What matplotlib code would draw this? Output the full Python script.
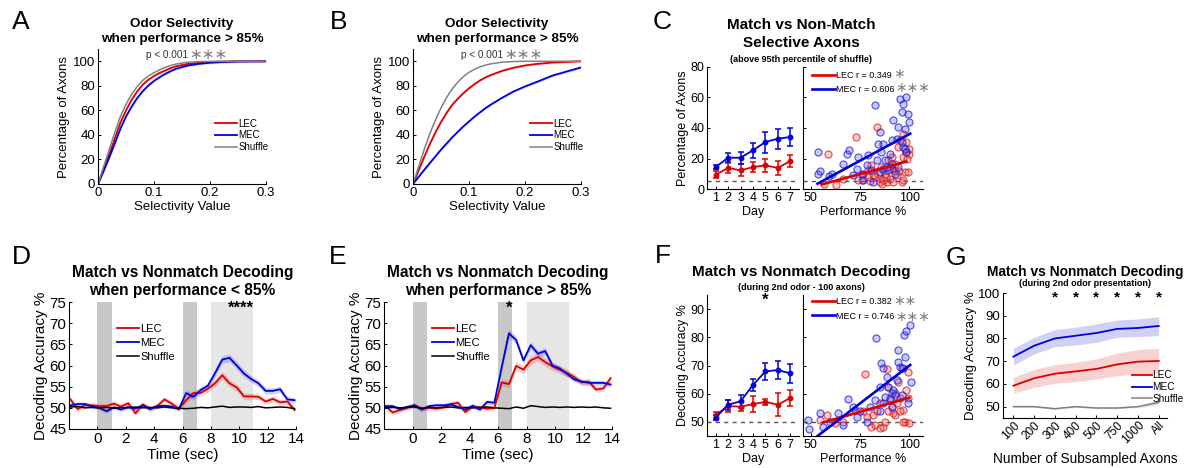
import matplotlib
matplotlib.use("Agg")
import matplotlib.pyplot as plt
import numpy as np

plt.rcParams["font.family"] = ["Liberation Sans", "DejaVu Sans"]
plt.rcParams["axes.linewidth"] = 0.8
plt.rcParams["xtick.direction"] = "in"
plt.rcParams["ytick.direction"] = "in"
plt.rcParams["xtick.major.size"] = 2.5
plt.rcParams["ytick.major.size"] = 2.5
plt.rcParams["xtick.major.width"] = 0.7
plt.rcParams["ytick.major.width"] = 0.7
plt.rcParams["xtick.major.pad"] = 2.5
plt.rcParams["ytick.major.pad"] = 2

# ---------------- data ----------------
# A / B: cumulative odor selectivity
sel_x = [0, 0.01, 0.02, 0.03, 0.04, 0.05, 0.06, 0.07, 0.08, 0.09, 0.10, 0.11,
         0.12, 0.13, 0.14, 0.16, 0.18, 0.20, 0.22, 0.25, 0.30]
a_shuffle = [0, 14, 28, 42, 55, 65, 73, 79.5, 84.5, 88, 90.7, 93, 95, 96.6, 97.8,
             99.2, 99.7, 99.9, 100, 100, 100]
a_lec = [0, 12, 24, 37, 50, 60, 68.5, 75.5, 81, 85, 88, 90.5, 92.5, 94.5, 96,
         97.8, 98.8, 99.4, 99.7, 100, 100]
a_mec = [0, 10.5, 21.5, 33, 45, 55, 63, 70, 75.7, 80.3, 84, 87, 89.7, 92, 94,
         96.5, 97.9, 98.8, 99.4, 99.8, 100]
b_shuffle = [0, 14, 28, 41, 52, 62, 70.5, 77.5, 83, 87.5, 91, 93.5, 95.5, 97, 98,
             99.3, 99.8, 100, 100, 100, 100]
b_lec = [0, 11, 22, 32.5, 42, 50.5, 58, 64.5, 69.5, 74, 78, 81.5, 84.5, 87, 89,
         92.3, 94.8, 96.6, 97.8, 99, 100]
b_mec = [0, 5.8, 11.5, 17, 22.5, 28, 33, 38, 42.5, 47, 51, 55, 58.5, 62, 65,
         70.5, 75.5, 79.5, 83, 88.5, 95]
cdf_band = 1.0

# C: selective axons per day
days = [1, 2, 3, 4, 5, 6, 7]
c_lec_mean = [9.4, 13.8, 12.2, 14.4, 15.5, 13.8, 18.4]
c_lec_err = [2.3, 3.5, 4.0, 3.5, 4.5, 4.5, 4.0]
c_mec_mean = [14.4, 20.5, 20.5, 25.4, 30.8, 33.0, 34.1]
c_mec_err = [1.5, 3.0, 4.0, 5.0, 6.9, 6.5, 6.2]

# C: selective axons vs performance
c_lec_perf = [58.5, 56.8, 63.0, 66.4, 72.7, 74.1, 76.6, 79.2, 80.8, 82.6, 83.7, 84.2,
              85.1, 85.9, 86.8, 87.6, 89.3, 90.2, 91.0, 91.9, 92.7, 93.6, 94.4, 95.3,
              96.1, 96.9, 97.8, 98.6, 99.5, 100.0, 90.2, 88.5, 78.3, 75.8, 96.9, 98.3,
              82.0, 88.0, 93.0, 97.0, 99.0, 86.0, 80.0, 91.0, 95.0, 100.0]
c_lec_pct = [22.7, 3.0, 2.8, 6.8, 34.1, 5.7, 10.0, 12.2, 15.5, 7.9, 40.7, 10.0,
             4.6, 14.4, 5.7, 10.0, 18.8, 6.8, 13.3, 4.6, 16.6, 9.0, 27.5, 31.9,
             4.6, 21.0, 11.1, 24.3, 11.1, 23.2, 14.4, 4.6, 7.9, 5.7, 36.3, 30.8,
             9.0, 8.0, 12.0, 6.0, 20.0, 3.5, 5.0, 21.0, 12.0, 26.0]
c_mec_perf = [53.4, 53.4, 54.6, 59.0, 60.5, 66.4, 68.6, 69.5, 71.5, 73.2, 74.0, 75.8,
              76.6, 78.3, 79.2, 80.8, 81.7, 82.6, 83.4, 84.2, 85.1, 85.9, 86.8, 87.6,
              88.5, 89.3, 90.2, 91.0, 91.9, 92.7, 93.6, 94.4, 95.3, 96.1, 96.9, 97.8,
              98.6, 99.5, 100.0, 96.9, 98.6, 94.4, 91.0, 85.1, 86.8, 96.1, 97.8]
c_mec_pct = [24.3, 10.0, 11.8, 8.3, 10.0, 16.6, 22.7, 25.8, 9.0, 13.3, 21.0, 10.0,
             5.7, 15.5, 22.0, 12.2, 4.6, 55.3, 18.8, 29.7, 37.4, 24.3, 29.7, 18.8,
             14.4, 12.2, 23.2, 31.9, 45.0, 10.0, 33.0, 40.7, 59.2, 50.5, 56.0, 39.6,
             60.3, 49.4, 44.0, 27.5, 24.3, 14.4, 16.6, 11.0, 13.3, 30.8, 26.4]
c_lec_fit_x = [55.5, 98.5]
c_lec_fit_y = [3.0, 18.0]
c_mec_fit_x = [53.4, 100.5]
c_mec_fit_y = [3.5, 36.3]

# D / E: decoding over time
time = np.linspace(-1.9, 13.9, 32)
d_mec = [50.6, 50.9, 50.9, 50.3, 50.0, 49.2, 50.1, 49.6, 50.2, 49.8, 50.6, 49.7,
         50.4, 50.5, 50.3, 49.7, 53.5, 52.6, 54.2, 55.2, 58.2, 61.4, 61.8, 60.0,
         58.1, 56.8, 55.8, 54.0, 54.0, 54.4, 52.0, 51.8]
d_lec = [52.0, 49.7, 50.6, 50.6, 50.4, 50.4, 51.0, 50.3, 51.1, 48.7, 50.8, 49.8,
         50.4, 52.0, 51.0, 49.8, 51.8, 53.5, 53.5, 54.5, 55.8, 57.7, 55.8, 54.8,
         52.7, 52.7, 52.6, 51.5, 52.1, 51.3, 51.5, 49.5]
d_shuffle = [50.2, 50.3, 50.0, 50.1, 50.0, 50.1, 49.9, 50.1, 50.0, 50.2, 50.0, 50.1,
             50.0, 50.2, 50.0, 49.9, 49.8, 49.9, 50.1, 50.0, 50.2, 50.4, 50.1, 50.2,
             50.2, 50.1, 50.3, 50.0, 50.1, 50.2, 50.1, 49.8]
d_mec_sem = [0.5, 0.5, 0.5, 0.5, 0.5, 0.5, 0.5, 0.5, 0.5, 0.5, 0.5, 0.5,
             0.5, 0.5, 0.5, 0.5, 0.7, 0.8, 0.8, 0.8, 0.9, 0.9, 0.9, 0.9,
             0.9, 0.8, 0.8, 0.8, 0.7, 0.7, 0.7, 0.6]
d_lec_sem = [0.6, 0.6, 0.6, 0.6, 0.6, 0.6, 0.6, 0.6, 0.6, 0.6, 0.6, 0.6,
             0.6, 0.6, 0.6, 0.6, 0.7, 0.7, 0.8, 0.8, 0.8, 0.9, 0.9, 0.8,
             0.8, 0.8, 0.7, 0.7, 0.7, 0.7, 0.7, 0.7]
e_mec = [50.4, 50.4, 49.7, 50.2, 50.6, 49.6, 50.4, 50.6, 50.6, 50.8, 50.2, 49.6,
         50.5, 49.6, 51.4, 51.2, 59.5, 67.6, 66.0, 61.2, 64.8, 62.8, 63.4, 60.0,
         59.3, 58.0, 56.7, 56.2, 55.9, 55.9, 55.9, 55.5]
e_lec = [50.4, 48.9, 49.5, 50.0, 50.6, 49.8, 50.0, 49.8, 50.1, 50.9, 51.2, 49.0,
         50.3, 50.1, 49.8, 50.0, 56.0, 55.6, 59.9, 59.0, 61.2, 62.0, 60.8, 59.8,
         59.0, 58.3, 57.3, 56.0, 56.2, 54.3, 54.6, 57.0]
e_shuffle = [50.0, 50.1, 50.0, 50.1, 50.2, 49.9, 50.1, 50.0, 50.1, 50.2, 50.0, 50.1,
             50.0, 50.1, 50.2, 50.0, 49.9, 49.8, 50.2, 49.9, 50.5, 50.3, 50.1, 50.2,
             50.1, 50.2, 50.1, 50.2, 50.1, 50.2, 50.0, 49.9]
e_mec_sem = [0.5, 0.5, 0.5, 0.5, 0.5, 0.5, 0.5, 0.5, 0.5, 0.5, 0.5, 0.5,
             0.5, 0.5, 0.5, 0.5, 0.8, 1.0, 0.9, 0.8, 0.8, 0.8, 0.8, 0.7,
             0.7, 0.7, 0.6, 0.6, 0.6, 0.6, 0.6, 0.6]
e_lec_sem = [0.6, 0.6, 0.6, 0.6, 0.6, 0.6, 0.6, 0.6, 0.6, 0.6, 0.6, 0.6,
             0.6, 0.6, 0.6, 0.6, 0.8, 0.8, 1.0, 1.0, 1.0, 1.0, 1.0, 1.0,
             0.9, 0.9, 0.8, 0.8, 0.8, 0.7, 0.7, 0.7]

# F: decoding per day and vs performance
f_lec_mean = [52.5, 55.6, 55.4, 56.3, 57.1, 56.1, 58.5]
f_lec_err = [1.0, 2.2, 1.5, 2.8, 1.0, 4.0, 2.8]
f_mec_mean = [51.5, 56.1, 57.3, 63.1, 67.9, 68.4, 67.2]
f_mec_err = [1.0, 1.8, 2.3, 2.2, 3.1, 3.1, 3.5]
f_mec_perf = [48.6, 49.0, 54.6, 63.9, 69.0, 71.5, 73.2, 74.9, 78.3, 80.0, 82.5, 83.0,
              85.0, 85.9, 86.8, 87.6, 88.5, 90.2, 91.0, 91.9, 92.7, 93.6, 94.4, 95.3,
              96.1, 96.9, 97.5, 98.3, 99.5, 100.3, 100.7, 91.0, 86.8, 94.4, 97.8, 66.4,
              59.7, 56.3, 85.0, 89.3]
f_mec_acc = [50.7, 47.5, 53.0, 53.0, 58.0, 55.4, 51.9, 53.7, 50.1, 55.4, 57.8, 79.6,
             62.5, 71.0, 69.0, 59.0, 66.0, 58.4, 60.1, 61.3, 59.6, 64.9, 75.5, 69.6,
             59.6, 69.0, 80.7, 82.2, 56.6, 84.5, 64.3, 55.4, 56.6, 71.4, 73.1, 48.9,
             50.1, 48.3, 53.7, 62.5]
f_lec_perf = [54.6, 58.0, 62.2, 66.4, 72.4, 77.5, 78.3, 80.8, 82.5, 83.4, 85.0, 86.8,
              87.6, 88.5, 89.3, 90.2, 91.0, 91.9, 92.7, 93.6, 94.4, 95.3, 96.1, 96.9,
              97.8, 98.6, 99.5, 100.0, 96.9, 85.0, 81.7, 76.6, 89.3, 92.7, 95.3, 99.5]
f_lec_acc = [50.7, 52.5, 49.5, 50.1, 54.2, 66.9, 51.9, 48.3, 48.9, 53.7, 47.8, 48.3,
             50.1, 68.6, 53.7, 57.8, 55.4, 53.1, 60.1, 56.6, 64.3, 58.4, 69.0, 54.2,
             50.1, 61.3, 67.8, 49.5, 49.8, 56.6, 52.5, 53.7, 62.5, 52.5, 53.7, 58.4]
f_lec_fit_x = [56.3, 100.0]
f_lec_fit_y = [49.8, 58.6]
f_mec_fit_x = [53.4, 100.5]
f_mec_fit_y = [45.0, 70.2]

# G: decoding vs number of subsampled axons
g_labels = ["100", "200", "300", "400", "500", "750", "1000", "All"]
g_mec = [72.0, 76.8, 80.0, 81.2, 82.4, 84.2, 84.6, 85.5]
g_mec_hi = [75.7, 80.5, 83.9, 84.9, 86.4, 88.1, 88.6, 89.6]
g_mec_lo = [68.3, 73.2, 76.4, 77.1, 78.3, 80.5, 80.8, 81.2]
g_lec = [59.2, 62.5, 64.5, 65.5, 66.6, 68.6, 69.8, 70.1]
g_lec_hi = [62.9, 66.3, 68.5, 69.5, 71.0, 73.5, 75.1, 75.7]
g_lec_lo = [56.0, 58.5, 60.3, 61.0, 62.2, 63.6, 64.4, 64.8]
g_shuffle = [50.0, 50.0, 49.1, 50.0, 49.4, 49.4, 50.0, 51.9]
g_shuffle_hi = [50.3, 50.3, 49.4, 50.3, 49.7, 49.7, 50.4, 53.0]
g_shuffle_lo = [49.7, 49.7, 48.8, 49.7, 49.1, 49.1, 49.6, 50.8]
g_sig = [2, 3, 4, 5, 6, 7]

# ---------------- plotting ----------------
W, H = 1188, 468
RED = "#dc0000"
BLUE = "#0000dc"
GRAY = "#808080"
DARK_SPAN = "#c8c8c8"
LIGHT_SPAN = "#e6e6e6"
STAR = "\u2217"


def make_ax(fig, left, right, top, bottom):
    ax = fig.add_axes([left / W, 1 - bottom / H, (right - left) / W, (bottom - top) / H])
    ax.spines["top"].set_visible(False)
    ax.spines["right"].set_visible(False)
    return ax


def put_text(fig, x, y, s, **kw):
    fig.text(x / W, 1 - y / H, s, ha="center", va="center", **kw)


fig = plt.figure(figsize=(W / 100, H / 100), dpi=100)

# panel letters
for letter, x, y in [("A", 21, 22), ("B", 339, 22), ("C", 662, 22), ("D", 21, 257),
                     ("E", 338, 257), ("F", 663, 256), ("G", 956, 258)]:
    put_text(fig, x, y, letter, fontsize=19)

# ---- A and B ----
for left, right, shuf, lec, mec in [(98, 266, a_shuffle, a_lec, a_mec),
                                     (413, 581, b_shuffle, b_lec, b_mec)]:
    ax = make_ax(fig, left, right, 49, 184)
    ax.fill_between(sel_x, np.array(lec) - cdf_band, np.array(lec) + cdf_band,
                    color=RED, alpha=0.15, lw=0)
    ax.fill_between(sel_x, np.array(mec) - cdf_band, np.array(mec) + cdf_band,
                    color=BLUE, alpha=0.15, lw=0)
    l1, = ax.plot(sel_x, lec, color=RED, lw=1.3)
    l2, = ax.plot(sel_x, mec, color=BLUE, lw=1.3)
    l3, = ax.plot(sel_x, shuf, color=GRAY, lw=1.1)
    ax.set_xlim(0, 0.3)
    ax.set_ylim(0, 110)
    ax.set_xticks([0, 0.1, 0.2, 0.3])
    ax.set_xticklabels(["0", "0.1", "0.2", "0.3"])
    ax.set_yticks([0, 20, 40, 60, 80, 100])
    ax.tick_params(labelsize=9.5)
    ax.set_xlabel("Selectivity Value", fontsize=9.5, labelpad=1)
    ax.set_ylabel("Percentage of Axons", fontsize=9.5, labelpad=2)
    ax.text(0.086, 105.5, "p < 0.001", fontsize=7.2, va="center", ha="left", color="#333333")
    ax.text(0.162, 105.5, STAR * 3, fontsize=11, va="center", ha="left", color=GRAY)
    ax.legend([l1, l2, l3], ["LEC", "MEC", "Shuffle"], loc="upper left",
              bbox_to_anchor=(0.695, 0.485), frameon=False, fontsize=7,
              handlelength=2.3, handletextpad=0.1, labelspacing=0.2,
              borderpad=0, borderaxespad=0)
    cx = (left + right) / 2
    put_text(fig, cx, 24, "Odor Selectivity", fontsize=9.7, fontweight="bold")
    put_text(fig, cx, 39, "when performance > 85%", fontsize=9.7, fontweight="bold")


def day_and_scatter(top, bottom, ylim, yticks, ylabel, base,
                    lec_mean, lec_err, mec_mean, mec_err,
                    lec_perf, lec_val, mec_perf, mec_val,
                    lec_fit, mec_fit, lec_text, mec_text, lec_star, mec_star, leg_top):
    ax1 = make_ax(fig, 707, 799, top, bottom)
    ax1.axhline(base, color="#555555", lw=1.0, ls=(0, (3, 3)))
    ax1.errorbar(days, lec_mean, yerr=lec_err, color=RED, lw=1.3, marker="o", ms=3.2,
                 capsize=2, elinewidth=1.1, capthick=1.1)
    ax1.errorbar(days, mec_mean, yerr=mec_err, color=BLUE, lw=1.3, marker="o", ms=3.2,
                 capsize=2, elinewidth=1.1, capthick=1.1)
    ax1.set_xlim(0.3, 7.7)
    ax1.set_ylim(*ylim)
    ax1.set_xticks(days)
    ax1.set_yticks(yticks)
    ax1.tick_params(labelsize=9)
    ax1.set_xlabel("Day", fontsize=9, labelpad=1)
    ax1.set_ylabel(ylabel, fontsize=9, labelpad=1)

    ax2 = make_ax(fig, 803, 923, top, bottom)
    ax2.axhline(base, color="#555555", lw=1.0, ls=(0, (3, 3)))
    ax2.scatter(lec_perf, lec_val, s=26, facecolor=(0.95, 0.3, 0.3, 0.3),
                edgecolor=(0.85, 0.1, 0.1, 0.75), lw=0.8, zorder=2)
    ax2.scatter(mec_perf, mec_val, s=26, facecolor=(0.3, 0.3, 0.95, 0.3),
                edgecolor=(0.1, 0.1, 0.85, 0.75), lw=0.8, zorder=2)
    h1, = ax2.plot(lec_fit[0], lec_fit[1], color=RED, lw=1.9, zorder=3)
    h2, = ax2.plot(mec_fit[0], mec_fit[1], color=BLUE, lw=1.9, zorder=3)
    ax2.set_xlim(46, 107)
    ax2.set_ylim(*ylim)
    ax2.set_xticks([50, 75, 100])
    ax2.set_yticks(yticks)
    ax2.set_yticklabels([])
    ax2.tick_params(labelsize=9)
    ax2.set_xlabel("Performance %", fontsize=9, labelpad=1)
    ax2.legend([h1, h2], [lec_text, mec_text], loc="upper left",
               bbox_to_anchor=(0.075, leg_top), frameon=False, fontsize=6.5,
               handlelength=2.6, handletextpad=0.1, labelspacing=0.6,
               borderpad=0, borderaxespad=0)
    ax2.text(lec_star[0], lec_star[1], lec_star[2], transform=ax2.transAxes,
             fontsize=10, color=GRAY, ha="left", va="center")
    ax2.text(mec_star[0], mec_star[1], mec_star[2], transform=ax2.transAxes,
             fontsize=10, color=GRAY, ha="left", va="center")
    return ax1, ax2


# ---- C ----
day_and_scatter(67, 189, (0, 80), [0, 20, 40, 60, 80], "Percentage of Axons", 5,
                c_lec_mean, c_lec_err, c_mec_mean, c_mec_err,
                c_lec_perf, c_lec_pct, c_mec_perf, c_mec_pct,
                (c_lec_fit_x, c_lec_fit_y), (c_mec_fit_x, c_mec_fit_y),
                "LEC r = 0.349", "MEC r = 0.606",
                (0.75, 0.942, STAR), (0.77, 0.828, STAR * 3), 0.968)
put_text(fig, 801, 25, "Match vs Non-Match", fontsize=11, fontweight="bold")
put_text(fig, 801, 43, "Selective Axons", fontsize=11, fontweight="bold")
put_text(fig, 801, 59, "(above 95th percentile of shuffle)", fontsize=6.5, fontweight="bold")

# ---- F ----
f1, f2 = day_and_scatter(295, 436, (45, 95), [50, 60, 70, 80, 90], "Decoding Accuracy %", 50,
                         f_lec_mean, f_lec_err, f_mec_mean, f_mec_err,
                         f_lec_perf, f_lec_acc, f_mec_perf, f_mec_acc,
                         (f_lec_fit_x, f_lec_fit_y), (f_mec_fit_x, f_mec_fit_y),
                         "LEC r = 0.382", "MEC r = 0.746",
                         (0.75, 0.956, STAR * 2), (0.77, 0.847, STAR * 3), 0.985)
f1.text(5, 93.2, "*", fontsize=12, fontweight="bold", ha="center", va="center")
put_text(fig, 801, 272, "Match vs Nonmatch Decoding", fontsize=11, fontweight="bold")
put_text(fig, 801, 287, "(during 2nd odor - 100 axons)", fontsize=6.5, fontweight="bold")

# ---- D and E ----
for left, right, mec, lec, shuf, mec_sem, lec_sem, title2, star_x, stars in [
        (69, 296, d_mec, d_lec, d_shuffle, d_mec_sem, d_lec_sem,
         "when performance < 85%", 10.1, "****"),
        (384, 612, e_mec, e_lec, e_shuffle, e_mec_sem, e_lec_sem,
         "when performance > 85%", 6.75, "*")]:
    ax = make_ax(fig, left, right, 302, 429)
    ax.axvspan(0, 1, color=DARK_SPAN, lw=0, zorder=0)
    ax.axvspan(6, 7, color=DARK_SPAN, lw=0, zorder=0)
    ax.axvspan(8, 11, color=LIGHT_SPAN, lw=0, zorder=0)
    mec = np.array(mec)
    lec = np.array(lec)
    ax.fill_between(time, lec - np.array(lec_sem), lec + np.array(lec_sem),
                    color=RED, alpha=0.18, lw=0)
    ax.fill_between(time, mec - np.array(mec_sem), mec + np.array(mec_sem),
                    color=BLUE, alpha=0.18, lw=0)
    l1, = ax.plot(time, lec, color=RED, lw=1.3)
    l2, = ax.plot(time, mec, color=BLUE, lw=1.3)
    l3, = ax.plot(time, shuf, color="black", lw=1.1)
    ax.set_xlim(-2, 14)
    ax.set_ylim(45, 75)
    ax.set_xticks([0, 2, 4, 6, 8, 10, 12, 14])
    ax.set_yticks([45, 50, 55, 60, 65, 70, 75])
    ax.tick_params(labelsize=11)
    ax.set_xlabel("Time (sec)", fontsize=11, labelpad=1)
    ax.set_ylabel("Decoding Accuracy %", fontsize=11, labelpad=1)
    ax.text(star_x, 73.6, stars, fontsize=12, fontweight="bold", ha="center", va="center")
    ax.legend([l1, l2, l3], ["LEC", "MEC", "Shuffle"], loc="upper left",
              bbox_to_anchor=(0.21, 0.825), frameon=False, fontsize=8,
              handlelength=2.0, handletextpad=0.1, labelspacing=0.35,
              borderpad=0, borderaxespad=0)
    cx = (left + right) / 2
    put_text(fig, cx, 272, "Match vs Nonmatch Decoding", fontsize=11.2, fontweight="bold")
    put_text(fig, cx, 291, title2, fontsize=11.2, fontweight="bold")

# ---- G ----
ax = make_ax(fig, 1003, 1167, 293, 418)
gx = np.arange(len(g_labels))
ax.fill_between(gx, g_lec_lo, g_lec_hi, color=RED, alpha=0.18, lw=0)
ax.fill_between(gx, g_mec_lo, g_mec_hi, color=BLUE, alpha=0.18, lw=0)
ax.fill_between(gx, g_shuffle_lo, g_shuffle_hi, color=GRAY, alpha=0.25, lw=0)
l1, = ax.plot(gx, g_lec, color=RED, lw=1.3)
l2, = ax.plot(gx, g_mec, color=BLUE, lw=1.3)
l3, = ax.plot(gx, g_shuffle, color=GRAY, lw=1.1)
for i in g_sig:
    ax.text(i, 98.2, "*", fontsize=11, fontweight="bold", ha="center", va="center")
ax.set_xlim(-0.5, 7.4)
ax.set_ylim(45, 100)
ax.set_xticks(gx)
ax.set_xticklabels(g_labels, rotation=45, ha="right", rotation_mode="anchor")
ax.set_yticks([50, 60, 70, 80, 90, 100])
ax.tick_params(axis="y", labelsize=9.5)
ax.tick_params(axis="x", labelsize=8.5, pad=1)
ax.set_xlabel("Number of Subsampled Axons", fontsize=9.8)
ax.xaxis.set_label_coords(0.5, -0.27)
ax.set_ylabel("Decoding Accuracy %", fontsize=9.5, labelpad=1)
ax.legend([l1, l2, l3], ["LEC", "MEC", "Shuffle"], loc="upper left",
          bbox_to_anchor=(0.785, 0.38), frameon=False, fontsize=7.2,
          handlelength=2.0, handletextpad=0.05, labelspacing=0.15,
          borderpad=0, borderaxespad=0)
put_text(fig, 1085, 272, "Match vs Nonmatch Decoding", fontsize=9.9, fontweight="bold")
put_text(fig, 1085, 284, "(during 2nd odor presentation)", fontsize=6.5, fontweight="bold")

fig.savefig("out.png", dpi=100)
